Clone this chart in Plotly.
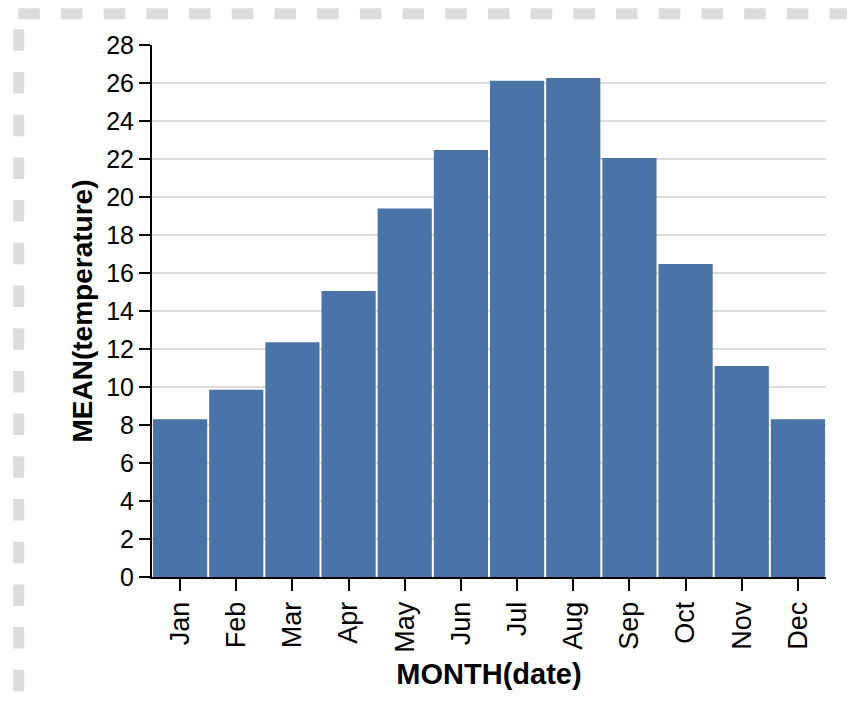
import plotly.graph_objects as go

months = ['Jan', 'Feb', 'Mar', 'Apr', 'May', 'Jun', 'Jul', 'Aug', 'Sep', 'Oct', 'Nov', 'Dec']
mean_temp = [8.3, 9.85, 12.35, 15.05, 19.4, 22.47, 26.12, 26.26, 22.05, 16.47, 11.1, 8.3]
y_ticks = list(range(0, 29, 2))

fig = go.Figure(go.Bar(x=months, y=mean_temp, marker=dict(color='#4a74a7', line=dict(width=0))))

# page body has an 8px margin, so the figure is 847x703 and the plot box sits at x 144..818, y 37..569
fig.update_layout(
    width=847, height=703,
    margin=dict(l=144, r=29, t=37, b=134),
    plot_bgcolor='white', paper_bgcolor='white',
    bargap=0.035,
    showlegend=False,
    font=dict(family='Liberation Sans, Arial, sans-serif', size=25, color='black'),
)
fig.update_yaxes(
    range=[0, 28], tickvals=y_ticks, showgrid=True, gridcolor='#dddddd', gridwidth=2,
    showline=True, linecolor='black', linewidth=2, ticks='outside', ticklen=11, tickwidth=2,
    tickcolor='black', zeroline=False, tickfont=dict(size=25),
    title=dict(text='<b>MEAN(temperature)</b>', font=dict(size=28), standoff=5),
)
fig.update_xaxes(
    showline=True, linecolor='black', linewidth=2, ticks='outside', ticklen=12, tickwidth=2,
    tickcolor='black', tickangle=-90, showgrid=False, tickfont=dict(size=27),
    title=dict(text='<b>MONTH(date)</b>', font=dict(size=29), standoff=12),
)

# dashed frame along top and left edges
fig.add_shape(type='line', xref='paper', yref='paper', x0=-0.1984, x1=1.05, y0=1.0588, y1=1.0588,
              line=dict(color='#dcdcdc', width=11, dash='21.5px,21.2px'))
fig.add_shape(type='line', xref='paper', yref='paper', x0=-0.1978, x1=-0.1978, y0=1.0295, y1=-0.27,
              line=dict(color='#dcdcdc', width=11, dash='21.5px,21.2px'))

fig.write_html("out.html")
